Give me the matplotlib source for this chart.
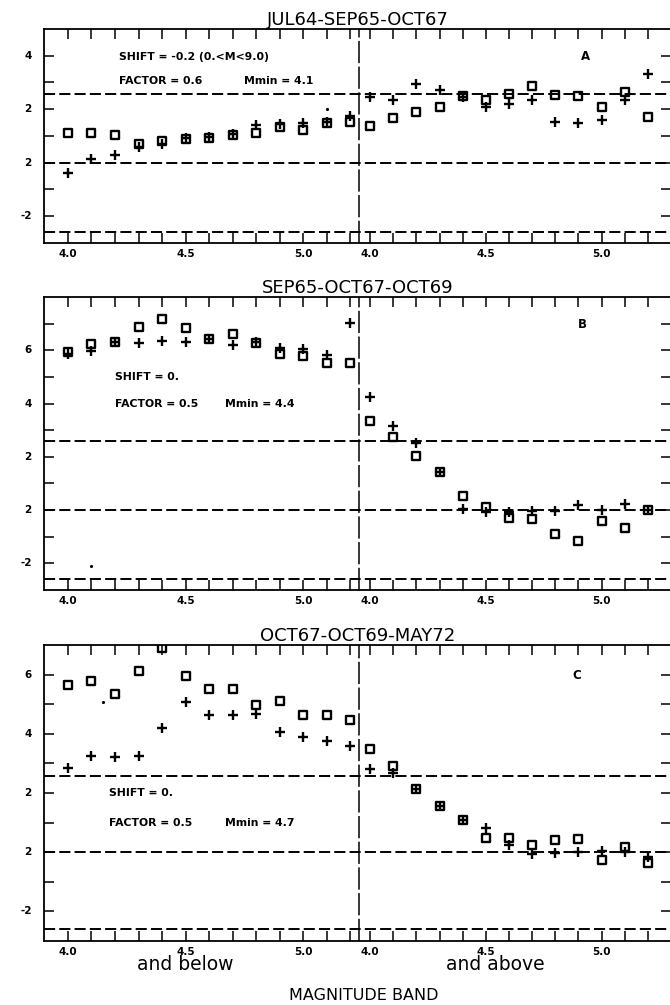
import matplotlib
matplotlib.use("Agg")
import matplotlib.pyplot as plt
from matplotlib.markers import MarkerStyle
import numpy as np

plt.rcParams['font.family'] = ['DejaVu Sans']
plt.rcParams['lines.scale_dashes'] = False

# ---------------- data ----------------
bands = [4.0, 4.1, 4.2, 4.3, 4.4, 4.5, 4.6, 4.7, 4.8, 4.9, 5.0, 5.1, 5.2]
x_tick_labels = ['4.0', '4.5', '5.0']
x_tick_bands = [4.0, 4.5, 5.0]

titles = ['JUL64-SEP65-OCT67', 'SEP65-OCT67-OCT69', 'OCT67-OCT69-MAY72']
panel_letters = ['A', 'B', 'C']

# Panel A
a_below_sq = [1.11, 1.13, 1.05, 0.71, 0.82, 0.89, 0.92, 1.05, 1.13, 1.32, 1.24, 1.48, 1.51]
a_below_pl = [-0.39, 0.14, 0.30, 0.59, 0.71, 0.92, 0.95, 1.08, 1.42, 1.46, 1.48, 1.54, 1.73]
a_above_sq = [1.36, 1.67, 1.89, 2.08, 2.48, 2.36, 2.57, 2.88, 2.54, 2.48, 2.08, 2.63, 1.71]
a_above_pl = [2.45, 2.36, 2.95, 2.73, 2.45, 2.08, 2.21, 2.33, 1.51, 1.48, 1.61, 2.36, 3.33]

# Panel B
b_below_sq = [5.93, 6.25, 6.31, 6.88, 7.19, 6.82, 6.41, 6.62, 6.28, 5.85, 5.78, 5.54, 5.51]
b_below_pl = [5.85, 5.97, 6.31, 6.28, 6.34, 6.31, 6.43, 6.18, 6.31, 6.10, 6.06, 5.81, 7.03]
b_above_sq = [3.36, 2.74, 2.03, 1.43, 0.54, 0.13, -0.31, -0.34, -0.91, -1.16, -0.41, -0.68, 0.00]
b_above_pl = [4.25, 3.15, 2.51, 1.43, 0.04, -0.06, -0.06, -0.04, -0.04, 0.19, 0.00, 0.21, 0.00]

# Panel C
c_below_sq = [5.64, 5.77, 5.34, 6.12, 6.90, 5.94, 5.51, 5.51, 4.96, 5.10, 4.65, 4.65, 4.46]
c_below_pl = [2.83, 3.25, 3.20, 3.25, 4.21, 5.08, 4.65, 4.65, 4.68, 4.07, 3.90, 3.75, 3.59]
c_above_sq = [3.48, 2.91, 2.13, 1.57, 1.09, 0.49, 0.47, 0.25, 0.41, 0.44, -0.26, 0.19, -0.37]
c_above_pl = [2.81, 2.66, 2.13, 1.57, 1.09, 0.83, 0.25, -0.06, -0.04, -0.01, 0.05, 0.02, -0.15]

# small stray dots (band, side, value)
stray_a = [(5.1, 'below', 2.0)]
stray_b = [(4.1, 'below', -2.11)]
stray_c = [(4.15, 'below', 5.08)]

shift_text = ['SHIFT = -0.2 (0.<M<9.0)', 'SHIFT = 0.', 'SHIFT = 0.']
factor_text = ['FACTOR = 0.6', 'FACTOR = 0.5', 'FACTOR = 0.5']
mmin_text = ['Mmin = 4.1', 'Mmin = 4.4', 'Mmin = 4.7']

sig_levels = [2.58, 0.0, -2.58]
y_ranges = [(-3, 5), (-3, 8), (-3, 7)]
y_label_vals = [[4, 2, 0, -2], [6, 4, 2, 0, -2], [6, 4, 2, 0, -2]]
y_label_txt = [['4', '2', '2', '-2'], ['6', '4', '2', '2', '-2'], ['6', '4', '2', '2', '-2']]

# ---------------- layout ----------------
def pos_below(b):
    return (np.asarray(b, dtype=float) - 4.0) * 10.0

def pos_above(b):
    return 12.85 + (np.asarray(b, dtype=float) - 4.0) * 9.85

W, H = 670, 1005
fig = plt.figure(figsize=(W / 100, H / 100), dpi=100)

boxes = [(29, 243), (297, 590), (645, 941)]
left_px, right_px = 44, 671

data = [
    (a_below_sq, a_below_pl, a_above_sq, a_above_pl, stray_a),
    (b_below_sq, b_below_pl, b_above_sq, b_above_pl, stray_b),
    (c_below_sq, c_below_pl, c_above_sq, c_above_pl, stray_c),
]
shift_y = [3.97, 4.98, 1.99]
factor_y = [3.04, 3.98, 0.98]
shift_x = [2.17, 1.98, 1.74]
mmin_x = [7.5, 6.7, 6.7]
letter_pos = [(22.0, 3.96), (21.86, 6.97), (21.66, 5.98)]

sq_marker = MarkerStyle('s', fillstyle='none', joinstyle='round')
ann_fs = 7.8

for k in range(3):
    top, bot = boxes[k]
    ax = fig.add_axes([left_px / W, 1 - bot / H, (right_px - left_px) / W, (bot - top) / H])
    ax.set_xlim(-1.02, 25.65)
    ax.set_ylim(*y_ranges[k])
    for s in ax.spines.values():
        s.set_linewidth(1.3)

    bsq, bpl, asq, apl, stray = data[k]
    xb = pos_below(bands)
    xa = pos_above(bands)

    for lv in sig_levels:
        ax.axhline(lv, color='black', lw=1.4, dashes=(8, 3), zorder=1)
    ax.axvline(12.38, color='black', lw=1.1, dashes=(16, 2.5), zorder=1)

    ax.plot(xb, bpl, ls='none', marker='+', ms=7, mew=1.7, color='black', zorder=3)
    ax.plot(xa, apl, ls='none', marker='+', ms=7, mew=1.7, color='black', zorder=3)
    ax.plot(xb, bsq, ls='none', marker=sq_marker, ms=6.3, mew=1.7, color='black', zorder=4)
    ax.plot(xa, asq, ls='none', marker=sq_marker, ms=6.3, mew=1.7, color='black', zorder=4)

    for (bb, side, val) in stray:
        xx = pos_below(bb) if side == 'below' else pos_above(bb)
        ax.plot([xx], [val], ls='none', marker='.', ms=2.5, color='black')

    xt = list(xb) + list(xa)
    ax.set_xticks(xt)
    lbls = [f'{b:.1f}' if round(b, 1) in x_tick_bands else '' for b in bands]
    ax.set_xticklabels(lbls + lbls, fontsize=7.5, fontweight='bold')
    ax.tick_params(axis='x', direction='in', length=7, width=1.1, top=True, bottom=True, pad=4)

    ymin, ymax = y_ranges[k]
    yt = np.arange(ymin + 1, ymax, 1)
    ax.set_yticks(yt)
    ax.set_yticklabels([''] * len(yt))
    ax.tick_params(axis='y', direction='in', length=7, width=1.1, left=True, right=True)
    for v, t in zip(y_label_vals[k], y_label_txt[k]):
        ax.text(-1.55, v, t, ha='right', va='center', fontsize=7.5, fontweight='bold')

    ax.set_title(titles[k], fontsize=13, pad=3)

    ax.text(shift_x[k], shift_y[k], shift_text[k], fontsize=ann_fs, fontweight='bold', va='center')
    ax.text(shift_x[k], factor_y[k], factor_text[k], fontsize=ann_fs, fontweight='bold', va='center')
    ax.text(mmin_x[k], factor_y[k], mmin_text[k], fontsize=ann_fs, fontweight='bold', va='center')
    lx, ly = letter_pos[k]
    ax.text(lx, ly, panel_letters[k], fontsize=8.5, fontweight='bold', ha='center', va='center')

    if k == 2:
        ax.text(pos_below(4.5), -3.8, 'and below', fontsize=13.5, ha='center', va='center')
        ax.text(pos_above(4.5) + 0.4, -3.8, 'and above', fontsize=13.5, ha='center', va='center')

fig.text(364 / W, 1 - 995 / H, 'MAGNITUDE BAND', fontsize=11.5, ha='center', va='center')

fig.savefig('out.png', dpi=100)
